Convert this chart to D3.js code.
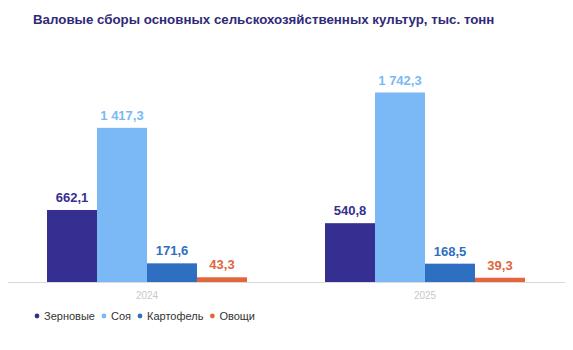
<!DOCTYPE html>
<html>
<head>
<meta charset="utf-8">
<script src="https://cdn.jsdelivr.net/npm/d3@7"></script>
<style>
  html, body { margin: 0; padding: 0; background: #fff; }
  svg { display: block; font-family: "Liberation Sans", Arial, sans-serif; }
</style>
</head>
<body>
<svg id="chart" width="573" height="350"></svg>
<script>
// Gross harvest of main crops, thousand tonnes
const years = ["2024", "2025"];
const crops = ["Зерновые", "Соя", "Картофель", "Овощи"];
const grain = [662.1, 540.8];
const soy = [1417.3, 1742.3];
const potato = [171.6, 168.5];
const vegetables = [43.3, 39.3];
const colors = ["#352f91", "#7bb8f6", "#2f6fc2", "#e2653c"];
const title = "Валовые сборы основных сельскохозяйственных культур, тыс. тонн";

const series = [grain, soy, potato, vegetables];

const svg = d3.select("#chart");
const baseY = 282;

const x0 = d3.scaleBand().domain(years).range([8, 564]).paddingInner(0.2806).paddingOuter(0.1403);
const x1 = d3.scaleBand().domain(crops).range([0, x0.bandwidth()]).padding(0);
const y = d3.scaleLinear().domain([0, 1742.3]).range([baseY, 92.5]);

const fmt = v => {
  const s = d3.format(",.1f")(v);
  return s.replace(/,/g, " ").replace(".", ",");
};

// Title
svg.append("text")
  .attr("x", 33).attr("y", 24)
  .attr("fill", "#2f2a7a")
  .attr("font-size", 13.3).attr("font-weight", "bold")
  .text(title);

// Baseline
svg.append("line")
  .attr("x1", 8).attr("x2", 565)
  .attr("y1", baseY + 0.5).attr("y2", baseY + 0.5)
  .attr("stroke", "#d9d9d9").attr("stroke-width", 1.2);

const groups = svg.selectAll("g.year").data(years).join("g")
  .attr("class", "year")
  .attr("transform", d => `translate(${x0(d)},0)`);

crops.forEach((c, ci) => {
  groups.append("rect")
    .attr("x", x1(c))
    .attr("width", x1.bandwidth())
    .attr("y", (d, i) => y(series[ci][i]))
    .attr("height", (d, i) => baseY - y(series[ci][i]))
    .attr("fill", colors[ci]);

  groups.append("text")
    .attr("x", x1(c) + x1.bandwidth() / 2)
    .attr("y", (d, i) => y(series[ci][i]) - 8)
    .attr("text-anchor", "middle")
    .attr("fill", colors[ci])
    .attr("font-size", 13).attr("font-weight", "bold")
    .text((d, i) => fmt(series[ci][i]));
});

// Year labels
svg.append("g").selectAll("text").data(years).join("text")
  .attr("x", d => x0(d) + x0.bandwidth() / 2)
  .attr("y", 299)
  .attr("text-anchor", "middle")
  .attr("fill", "#c8c8c8")
  .attr("font-size", 10)
  .text(d => d);

// Legend
const legend = svg.append("g").attr("transform", "translate(37,316)");
let lx = 0;
crops.forEach((c, i) => {
  const g = legend.append("g").attr("transform", `translate(${lx},0)`);
  g.append("circle").attr("cx", 0).attr("cy", 0).attr("r", 2.4).attr("fill", colors[i]);
  const t = g.append("text").attr("x", 7).attr("y", 4)
    .attr("font-size", 11).attr("fill", "#333").text(c);
  lx += 7 + t.node().getComputedTextLength() + 9;
});
</script>
</body>
</html>
